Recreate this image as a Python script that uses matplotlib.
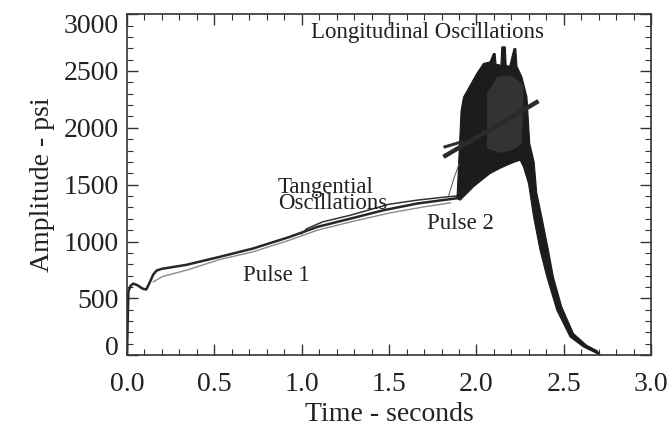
import numpy as np
import matplotlib
matplotlib.use("Agg")
import matplotlib.pyplot as plt
from matplotlib.ticker import MultipleLocator, FormatStrFormatter

plt.rcParams['font.family'] = ['Liberation Serif', 'DejaVu Serif']

# main pressure trace (pulse 1 and the ramp up to pulse 2)
t_main = [0.0, 0.004, 0.008, 0.02, 0.036, 0.06, 0.09, 0.11, 0.13, 0.15, 0.17, 0.2,
          0.34, 0.53, 0.72, 0.93, 1.09, 1.28, 1.47, 1.66, 1.83, 1.885]
p_main = [0, 300, 560, 610, 630, 615, 585, 578, 640, 710, 745, 760,
          795, 865, 938, 1040, 1129, 1202, 1276, 1334, 1369, 1380]

# second, lighter trace under pulse 1
t_light = [0.15, 0.2, 0.34, 0.53, 0.72, 0.93, 1.09, 1.3, 1.5, 1.7, 1.85]
p_light = [645, 690, 748, 841, 909, 1012, 1100, 1180, 1250, 1305, 1340]

# upper trace (tangential oscillations)
t_tang = [1.0, 1.03, 1.12, 1.28, 1.5, 1.66, 1.83, 1.885]
p_tang = [1070, 1114, 1173, 1232, 1328, 1364, 1393, 1400]

# outline of the longitudinal oscillation band, bottom edge left->right
t_low = [1.885, 1.907, 1.95, 1.983, 2.03, 2.078, 2.13, 2.174, 2.22, 2.25, 2.269,
         2.298, 2.327, 2.364, 2.403, 2.46, 2.536, 2.612, 2.71]
p_low = [1380, 1364, 1430, 1481, 1540, 1598, 1640, 1671, 1700, 1715, 1657,
         1510, 1217, 924, 689, 396, 161, 73, 0]
# top edge right->left
t_up = [2.69, 2.63, 2.555, 2.488, 2.44, 2.412, 2.374, 2.345, 2.33, 2.305, 2.289,
        2.26, 2.232, 2.225, 2.215, 2.19, 2.17, 2.165, 2.145, 2.14, 2.112, 2.107,
        2.097, 2.078, 2.04, 2.002, 1.926, 1.912, 1.9, 1.89]
p_up = [40, 88, 191, 425, 689, 924, 1217, 1430, 1700, 1862, 2272,
        2448, 2540, 2697, 2697, 2540, 2550, 2712, 2712, 2550, 2560, 2653,
        2653, 2580, 2566, 2478, 2270, 2150, 1750, 1420]

# lighter speckled core of the band
t_core = [2.06, 2.13, 2.2, 2.26, 2.27, 2.2, 2.12, 2.06]
p_core = [1820, 1780, 1800, 1860, 2380, 2460, 2450, 2300]

# thick straight line drawn across the band
t_diag = [1.811, 2.355]
p_diag = [1745, 2235]
t_diag2 = [1.82, 1.916]
p_diag2 = [1833, 1877]
t_thin = [1.84, 1.872, 1.90]
p_thin = [1400, 1560, 1680]

fig = plt.figure(figsize=(6.72, 4.29), dpi=100)
ax = fig.add_axes([0.189, 0.172, 0.78, 0.795])

ax.fill(t_low + t_up, p_low + p_up, color='#1c1c1c', lw=0.8, ec='#1c1c1c')
ax.fill(t_core, p_core, color='#333333', lw=0)
ax.plot(t_light, p_light, color='#8a8a8a', lw=1.0)
ax.plot(t_main, p_main, color='#262626', lw=1.8)
ax.plot(t_tang, p_tang, color='#333333', lw=1.1)
ax.plot(t_diag, p_diag, color='#2a2a2a', lw=3.2, solid_capstyle='butt')
ax.plot(t_diag2, p_diag2, color='#2e2e2e', lw=2.2)
ax.plot(t_thin, p_thin, color='#555555', lw=0.7)

txt = dict(fontsize=16.5, color='#222222')
ax.text(1.72, 2842, "Longitudinal Oscillations", ha='center', va='center', **txt)
ax.text(0.864, 1405, "Tangential\nOscillations", ha='left', va='center',
        linespacing=0.72, **txt)
ax.text(0.856, 704, "Pulse 1", ha='center', va='center', **txt)
ax.text(1.909, 1161, "Pulse 2", ha='center', va='center', **txt)

ax.set_xlim(0, 3)
ax.set_ylim(0, 3000)
ax.xaxis.set_major_locator(MultipleLocator(0.5))
ax.xaxis.set_minor_locator(MultipleLocator(0.1))
ax.yaxis.set_major_locator(MultipleLocator(500))
ax.yaxis.set_minor_locator(MultipleLocator(100))
ax.xaxis.set_major_formatter(FormatStrFormatter('%.1f'))
ax.tick_params(which='both', direction='in', top=True, right=True, colors='#333333',
               labelcolor='#222222', labelsize=20)
ax.tick_params(axis='x', pad=12)
ax.tick_params(axis='y', pad=6)
ax.tick_params(which='major', length=8, width=1)
ax.tick_params(which='minor', length=4, width=0.8)
for s in ax.spines.values():
    s.set_color('#333333')
    s.set_linewidth(1.2)

ax.set_xlabel("Time - seconds", fontsize=20, color='#222222', labelpad=4)
ax.set_ylabel("Amplitude - psi", fontsize=20, color='#222222', labelpad=6)

# end labels on the y axis sit a bit inside the frame, as in the scan
fig.canvas.draw()
for lab in ax.get_yticklabels():
    if lab.get_text() == '0':
        lab.set_va('baseline')
    elif lab.get_text() == '3000':
        lab.set_va('top')

fig.savefig("out.png", dpi=100)
